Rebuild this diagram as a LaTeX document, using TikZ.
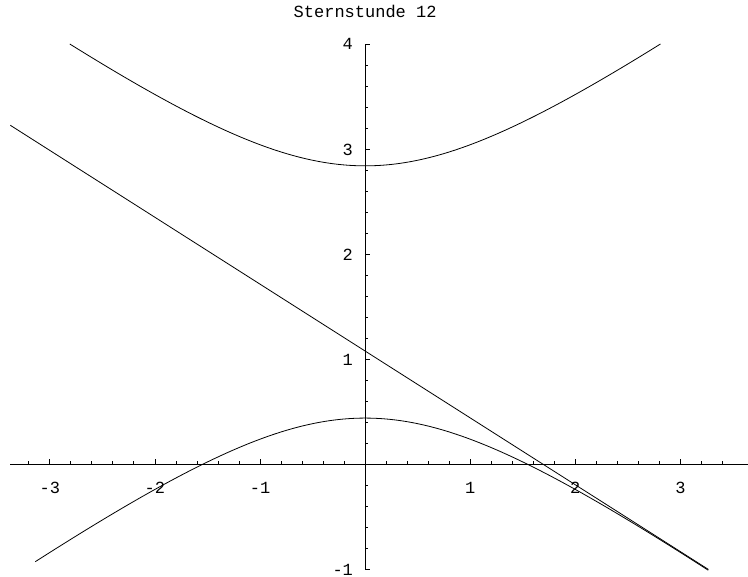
\documentclass[tikz,border=0pt]{standalone}
\usepackage{fontspec}
\setmonofont{Liberation Mono}

\begin{document}
\begin{tikzpicture}[x=105.1pt, y=105.1pt, every node/.style={font=\ttfamily\fontsize{17}{17}\selectfont, inner sep=0pt}, axis/.style={line width=1pt}, curve/.style={line width=0.8pt}, tickmark/.style={line width=0.8pt}]
        \useasboundingbox (-3.474,-1.072) rectangle (3.643,4.418);
        % axes
        \draw[axis] (-3.376,0) -- (3.643,0);
        \draw[axis] (0,-1) -- (0,4);
        \foreach \i in {-16,...,17} \draw[tickmark] ({\i/5},0) -- ++(0,3pt);
        \foreach \i in {-3,...,3} \draw[tickmark] (\i,0) -- ++(0,5pt);
        \foreach \i in {-5,...,20} \draw[tickmark] (0,{\i/5}) -- ++(3pt,0);
        \foreach \i in {-1,...,4} \draw[tickmark] (0,\i) -- ++(5pt,0);
        \foreach \n in {-3,-2,-1,1,2,3} \node[anchor=base] (xlab\n) at (\n,-0.273) {\n};
        \foreach \n in {-1,1,2,3,4} \node[anchor=base east] (ylab\n) at (-0.114,\n-0.057) {\n};
        \node[anchor=base] (title) at (0,4.256) {Sternstunde 12};
        % hyperbola and tangent
        \draw[curve] plot[domain=-2.81:2.81, samples=120, smooth] (\x, {1.64+1.2*sqrt(1+\x*\x/2.7556)});
        \draw[curve] plot[domain=-3.138:3.266, samples=120, smooth] (\x, {1.64-1.2*sqrt(1+\x*\x/2.7556)});
        \coordinate (tstart) at (-3.376,3.226);
        \coordinate (tend) at (3.266,-1.0);
        \draw[curve] (tstart) -- (tend);
    \end{tikzpicture}
\end{document}
